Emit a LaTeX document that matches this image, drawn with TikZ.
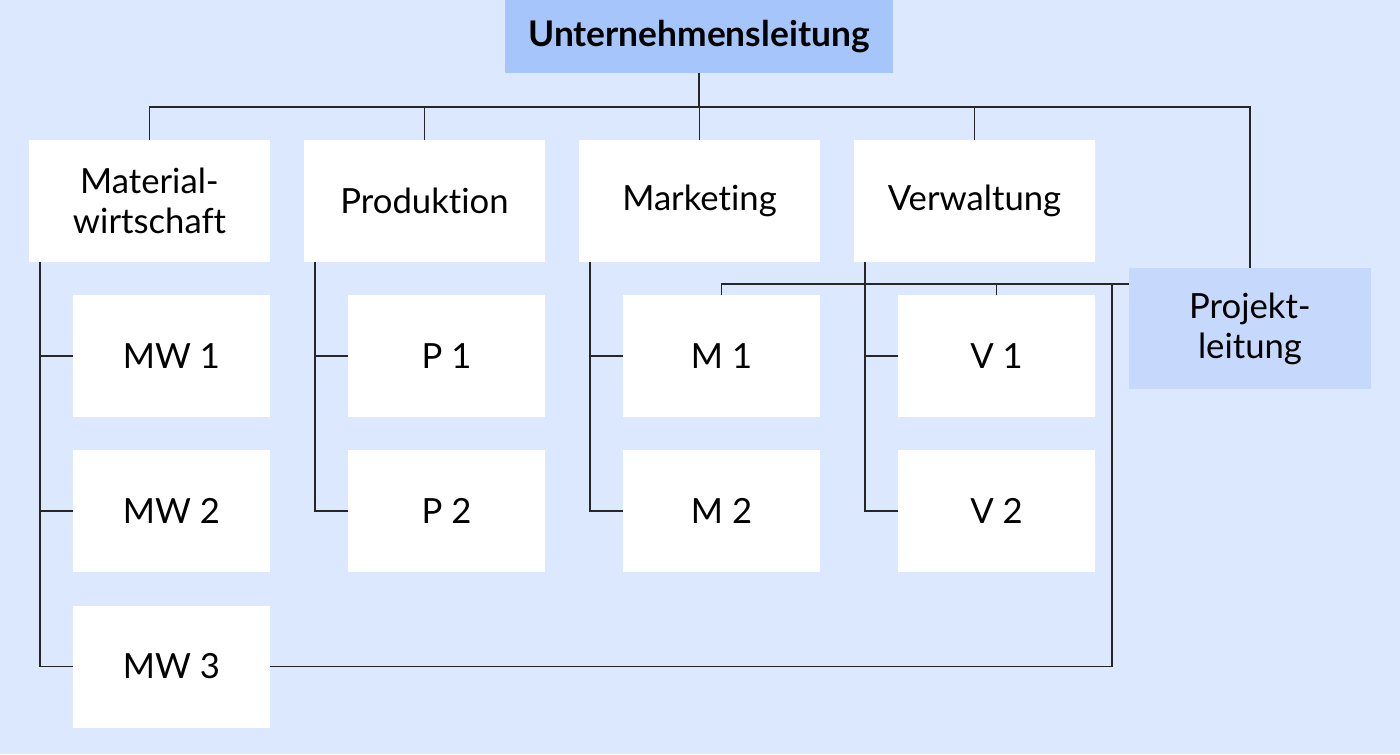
\documentclass[tikz,border=0pt]{standalone}
\usepackage{fontspec}
\setmainfont{Lato}[Ligatures=NoCommon]
\usepackage{tikz}
\definecolor{bgblue}{RGB}{220,232,254}
\definecolor{headblue}{RGB}{166,197,250}
\definecolor{projblue}{RGB}{198,217,252}
\tikzset{
  unit/.style={fill=white, inner sep=0pt, align=center, minimum width=180.75pt, minimum height=91.5pt, font=\fontsize{26}{30}\selectfont},
  subunit/.style={unit, minimum width=147.75pt},
  link/.style={line width=1pt, color=black!85},
}
\begin{document}
\begin{tikzpicture}[x=0.75pt,y=0.75pt,yscale=-1,xscale=1]
% background
\fill[bgblue] (0,0) rectangle (1400,754);
\useasboundingbox (0,0) rectangle (1400,754);

% Leitung
\node [unit, fill=headblue, minimum width=291pt, minimum height=54.75pt, font=\fontsize{26.5}{30}\selectfont\bfseries] (ul) at (699,36.5) {Unternehmensleitung};
\node [unit, fill=projblue, minimum width=181.5pt, minimum height=90.75pt] (pl) at (1250,328.5) {Projekt-\\leitung};

% Bereiche
\node [unit] (mat) at (149.5,201) {Material-\\wirtschaft};
\node [unit] (prod) at (424.5,201) {Produktion};
\node [unit] (mark) at (699.5,201) {Marketing};
\node [unit] (verw) at (974.5,201) {Verwaltung};

% Stellen
\node [subunit] (mw1) at (171.5,356) {MW 1};
\node [subunit] (mw2) at (171.5,511) {MW 2};
\node [subunit] (mw3) at (171.5,666.5) {MW 3};
\node [subunit] (p1) at (446.5,356) {P 1};
\node [subunit] (p2) at (446.5,511) {P 2};
\node [subunit] (m1) at (721.5,356) {M 1};
\node [subunit] (m2) at (721.5,511) {M 2};
\node [subunit] (v1) at (996.5,356) {V 1};
\node [subunit] (v2) at (996.5,511) {V 2};

% Hilfspunkte
\coordinate (top) at (699,107);
\coordinate (mwbus) at (40,262);
\coordinate (pbus) at (315,262);
\coordinate (mbus) at (590,262);
\coordinate (vbus) at (865,262);
\coordinate (pj) at (1129,284);
\coordinate (pk) at (1112,284);

% Linien oben
\draw [link] (ul.south) -- (top);
\draw [link] (mat.north) |- (pl.north |- top) -- (pl.north);
\draw [link] (prod.north) -- (prod.north |- top);
\draw [link] (mark.north) -- (mark.north |- top);
\draw [link] (verw.north) -- (verw.north |- top);

% Linien links
\draw [link] (mwbus) |- (mw3.west);
\draw [link] (mw1.west) -- (mw1.west -| mwbus);
\draw [link] (mw2.west) -- (mw2.west -| mwbus);
\draw [link] (pbus) |- (p2.west);
\draw [link] (p1.west) -- (p1.west -| pbus);
\draw [link] (mbus) |- (m2.west);
\draw [link] (m1.west) -- (m1.west -| mbus);
\draw [link] (vbus) |- (v2.west);
\draw [link] (v1.west) -- (v1.west -| vbus);

% Projektleitung
\draw [link] (m1.north) |- (pj);
\draw [link] (v1.north) -- (v1.north |- pj);
\draw [link] (mw3.east) -| (pk);

\end{tikzpicture}
\end{document}
